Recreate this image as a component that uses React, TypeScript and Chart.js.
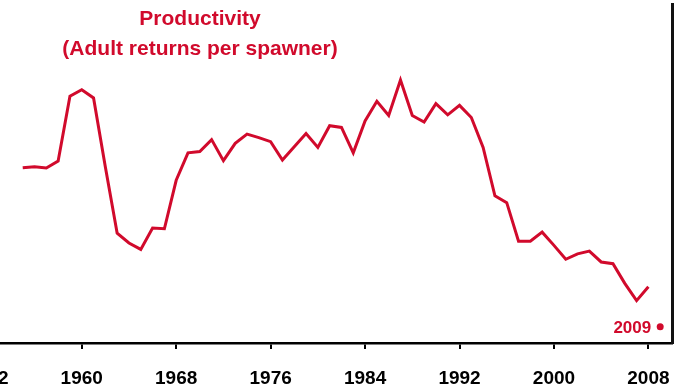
import React, { useEffect, useRef } from "react";
import { Chart, registerables } from "chart.js";

Chart.register(...registerables);

const years = [
  1955, 1956, 1957, 1958, 1959, 1960, 1961, 1962, 1963, 1964,
  1965, 1966, 1967, 1968, 1969, 1970, 1971, 1972, 1973, 1974,
  1975, 1976, 1977, 1978, 1979, 1980, 1981, 1982, 1983, 1984,
  1985, 1986, 1987, 1988, 1989, 1990, 1991, 1992, 1993, 1994,
  1995, 1996, 1997, 1998, 1999, 2000, 2001, 2002, 2003, 2004,
  2005, 2006, 2007, 2008,
];
const productivity = [
  5.17, 5.2, 5.16, 5.37, 7.28, 7.47, 7.23, 5.19, 3.24, 2.95,
  2.76, 3.39, 3.37, 4.8, 5.61, 5.65, 6.0, 5.38, 5.89, 6.16,
  6.06, 5.94, 5.4, 5.79, 6.18, 5.77, 6.41, 6.36, 5.61, 6.55,
  7.13, 6.71, 7.76, 6.71, 6.52, 7.06, 6.73, 7.01, 6.65, 5.77,
  4.34, 4.14, 3.0, 3.0, 3.27, 2.88, 2.47, 2.63, 2.71, 2.39,
  2.34, 1.76, 1.25, 1.66,
];
const highlightYear = 2009;
const highlightValue = 0.48;
const tickYears = [1952, 1960, 1968, 1976, 1984, 1992, 2000, 2008];
const titleLines = ["Productivity", "(Adult returns per spawner)"];

const RED = "#D10A2C";

export default function App() {
  const ref = useRef<HTMLCanvasElement | null>(null);

  useEffect(() => {
    if (!ref.current) return;
    const overlay = {
      id: "overlay",
      afterDatasetsDraw(chart: any) {
        const ctx = chart.ctx;
        ctx.save();
        ctx.fillStyle = RED;
        ctx.font = "bold 21px 'Liberation Sans', Arial, sans-serif";
        ctx.textAlign = "center";
        ctx.textBaseline = "alphabetic";
        ctx.fillText(titleLines[0], 260, 25);
        ctx.fillText(titleLines[1], 260, 55);
        const meta = chart.getDatasetMeta(1);
        const pt = meta.data[0];
        if (pt) {
          ctx.font = "bold 17px 'Liberation Sans', Arial, sans-serif";
          ctx.textAlign = "right";
          ctx.textBaseline = "middle";
          ctx.fillText(String(highlightYear), pt.x - 9, pt.y + 2);
        }
        ctx.restore();
      },
    };
    const chart = new Chart(ref.current, {
      type: "line",
      data: {
        datasets: [
          {
            data: years.map((y, i) => ({ x: y, y: productivity[i] })),
            borderColor: RED,
            borderWidth: 3,
            pointRadius: 0,
            tension: 0,
            borderJoinStyle: "miter",
          },
          {
            data: [{ x: highlightYear, y: highlightValue }],
            showLine: false,
            pointRadius: 3.5,
            pointBackgroundColor: RED,
            pointBorderColor: RED,
            pointBorderWidth: 0,
          },
        ],
      },
      options: {
        animation: false,
        responsive: true,
        maintainAspectRatio: false,
        layout: { padding: { left: 23.7, right: 13, top: 0, bottom: 0 } },
        plugins: {
          legend: { display: false },
          tooltip: { enabled: false },
          title: { display: false },
        },
        scales: {
          x: {
            type: "linear",
            min: 1950,
            max: 2010,
            afterBuildTicks: (scale: any) => {
              scale.ticks = tickYears.map((v) => ({ value: v }));
            },
            afterFit: (scale: any) => {
              scale.height = 49;
              scale.paddingLeft = 0;
              scale.paddingRight = 0;
            },
            grid: {
              drawOnChartArea: false,
              drawTicks: true,
              tickLength: 6,
              color: "#000",
              lineWidth: 2,
            },
            border: { display: true, color: "#000", width: 2.5 },
            ticks: {
              color: "#000",
              padding: 18,
              maxRotation: 0,
              autoSkip: false,
              font: { family: "'Liberation Sans', Arial, sans-serif", size: 19, weight: "bold" },
              callback: (v: any) => String(v),
            },
          },
          y: {
            position: "right",
            min: 0,
            max: 10,
            grid: { display: false, drawTicks: false },
            border: { display: true, color: "#111", width: 3 },
            ticks: { display: false },
          },
        },
      },
      plugins: [overlay],
    });
    return () => chart.destroy();
  }, []);

  return (
    <div style={{ position: "fixed", left: -60, top: 0, width: 745, height: 392, background: "#fff" }}>
      <canvas ref={ref} />
    </div>
  );
}
